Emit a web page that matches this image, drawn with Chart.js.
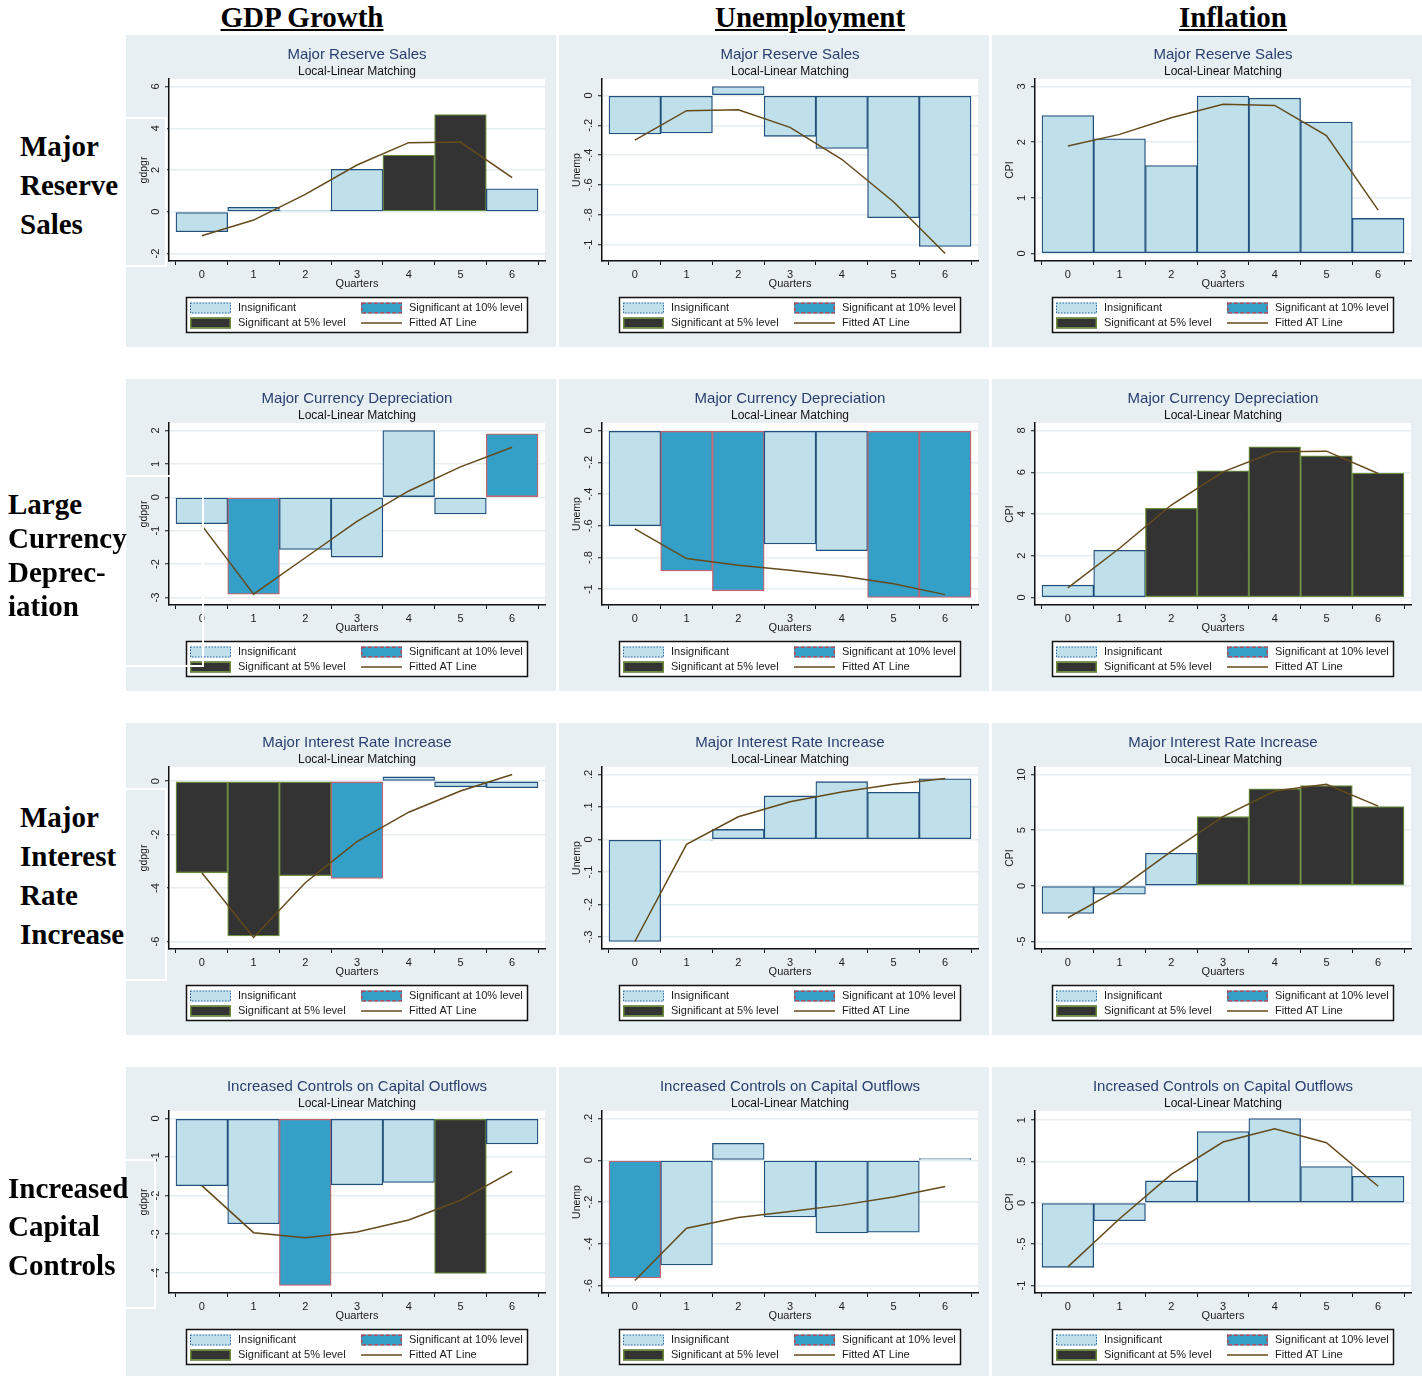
<!DOCTYPE html>
<html>
<head>
<meta charset="utf-8">
<title>Local-Linear Matching: effects of policy interventions</title>
<script src="https://cdn.jsdelivr.net/npm/chart.js@4.4.0/dist/chart.umd.min.js"></script>
<style>
  html, body { margin: 0; padding: 0; background: #ffffff; }
  body { width: 1422px; height: 1376px; overflow: hidden; position: relative;
         font-family: "Liberation Serif", "Times New Roman", serif; }
  .panel { position: absolute; width: 430px; height: 312px; background: #e8eff2; }
  .panel canvas { display: block; }
  .colhead { position: absolute; font-weight: bold; font-size: 29px; line-height: 29px;
             text-decoration: underline; white-space: nowrap; transform: translateX(-50%); color: #000; }
  .rowlab { position: absolute; font-weight: bold; font-size: 29px; line-height: 29px;
            white-space: nowrap; color: #000; }
  .frame { position: absolute; border: 2px solid #ffffff; pointer-events: none; z-index: 5; }
</style>
</head>
<body>
<script>
// ---------------------------------------------------------------
// Data
// ---------------------------------------------------------------
const quarters = [0, 1, 2, 3, 4, 5, 6];
const columnHeaders = ['GDP Growth', 'Unemployment', 'Inflation'];
const outcomeNames = ['gdpgr', 'Unemp', 'CPI'];
const interventions = [
  'Major Reserve Sales',
  'Major Currency Depreciation',
  'Major Interest Rate Increase',
  'Increased Controls on Capital Outflows'
];
const rowLabels = [
  ['Major', 'Reserve', 'Sales'],
  ['Large', 'Currency', 'Deprec-', 'iation'],
  ['Major', 'Interest', 'Rate', 'Increase'],
  ['Increased', 'Capital', 'Controls']
];
const subtitleText = 'Local-Linear Matching';
const xAxisTitle = 'Quarters';
const legendLabels = ['Insignificant', 'Significant at 10% level', 'Significant at 5% level', 'Fitted AT Line'];

// significance codes: 0 = insignificant, 1 = significant at 10%, 2 = significant at 5%

// Major reserve sales
const gdpReserveBars  = [-0.96, 0.21, 0.05, 2.03, 2.72, 4.66, 1.10];
const gdpReserveSig   = [0, 0, 0, 0, 2, 2, 0];
const gdpReserveFit   = [-1.15, -0.40, 0.83, 2.24, 3.31, 3.34, 1.63];
const gdpReserveTicks = [-2, 0, 2, 4, 6];

const unempReserveBars  = [-0.258, -0.252, 0.060, -0.274, -0.356, -0.820, -1.013];
const unempReserveSig   = [0, 0, 0, 0, 0, 0, 0];
const unempReserveFit   = [-0.300, -0.102, -0.096, -0.214, -0.428, -0.713, -1.060];
const unempReserveTicks = [-1, -0.8, -0.6, -0.4, -0.2, 0];

const cpiReserveBars  = [2.48, 2.06, 1.58, 2.83, 2.79, 2.36, 0.63];
const cpiReserveSig   = [0, 0, 0, 0, 0, 0, 0];
const cpiReserveFit   = [1.93, 2.14, 2.44, 2.68, 2.66, 2.12, 0.78];
const cpiReserveTicks = [0, 1, 2, 3];

// Major currency depreciation
const gdpCurrencyBars  = [-0.79, -2.90, -1.56, -1.79, 2.00, -0.50, 1.90];
const gdpCurrencySig   = [0, 1, 0, 0, 0, 0, 1];
const gdpCurrencyFit   = [-0.84, -2.90, -1.81, -0.72, 0.19, 0.91, 1.50];
const gdpCurrencyTicks = [-3, -2, -1, 0, 1, 2];

const unempCurrencyBars  = [-0.600, -0.885, -1.010, -0.715, -0.757, -1.052, -1.052];
const unempCurrencySig   = [0, 1, 1, 0, 0, 1, 1];
const unempCurrencyFit   = [-0.620, -0.807, -0.849, -0.881, -0.916, -0.966, -1.034];
const unempCurrencyTicks = [-1, -0.8, -0.6, -0.4, -0.2, 0];

const cpiCurrencyBars  = [0.59, 2.26, 4.27, 6.07, 7.22, 6.79, 5.96];
const cpiCurrencySig   = [0, 0, 2, 2, 2, 2, 2];
const cpiCurrencyFit   = [0.46, 2.36, 4.43, 6.02, 6.98, 7.01, 5.94];
const cpiCurrencyTicks = [0, 2, 4, 6, 8];

// Major interest rate increase
const gdpInterestBars  = [-3.43, -5.79, -3.54, -3.64, 0.16, -0.21, -0.24];
const gdpInterestSig   = [2, 2, 2, 1, 0, 0, 0];
const gdpInterestFit   = [-3.43, -5.85, -3.80, -2.26, -1.16, -0.37, 0.25];
const gdpInterestTicks = [-6, -4, -2, 0];

const unempInterestBars  = [-0.314, -0.002, 0.031, 0.134, 0.178, 0.145, 0.187];
const unempInterestSig   = [0, 0, 0, 0, 0, 0, 0];
const unempInterestFit   = [-0.314, -0.015, 0.070, 0.116, 0.146, 0.170, 0.188];
const unempInterestTicks = [-0.3, -0.2, -0.1, 0, 0.1, 0.2];

const cpiInterestBars  = [-2.48, -0.75, 2.93, 6.21, 8.72, 9.01, 7.13];
const cpiInterestSig   = [0, 0, 0, 2, 2, 2, 2];
const cpiInterestFit   = [-2.87, -0.27, 3.10, 6.21, 8.51, 9.13, 7.16];
const cpiInterestTicks = [-5, 0, 5, 10];

// Increased controls on capital outflows
const gdpControlsBars  = [-1.74, -2.73, -4.33, -1.72, -1.66, -4.02, -0.66];
const gdpControlsSig   = [0, 0, 1, 0, 0, 2, 0];
const gdpControlsFit   = [-1.74, -2.96, -3.09, -2.94, -2.63, -2.12, -1.37];
const gdpControlsTicks = [-4, -3, -2, -1, 0];

const unempControlsBars  = [-0.564, -0.502, 0.081, -0.272, -0.348, -0.345, 0.008];
const unempControlsSig   = [1, 0, 0, 0, 0, 0, 0];
const unempControlsFit   = [-0.576, -0.326, -0.274, -0.245, -0.215, -0.176, -0.126];
const unempControlsTicks = [-0.6, -0.4, -0.2, 0, 0.2];

const cpiControlsBars  = [-0.780, -0.217, 0.265, 0.863, 1.020, 0.438, 0.321];
const cpiControlsSig   = [0, 0, 0, 0, 0, 0, 0];
const cpiControlsFit   = [-0.775, -0.193, 0.345, 0.735, 0.896, 0.727, 0.200];
const cpiControlsTicks = [-1, -0.5, 0, 0.5, 1];

// ---------------------------------------------------------------
// Styling
// ---------------------------------------------------------------
const SANS = '"Liberation Sans", Arial, Helvetica, sans-serif';
const TITLE_COLOR = '#263f6e';
const TEXT_COLOR = '#1a1a1a';
const AXIS_COLOR = '#111111';
const GRID_COLOR = '#e6eef1';
const FIT_COLOR = '#654a1b';
const SIG_FILL = ['#bfe0ea', '#34a0c8', '#333333'];
const SIG_EDGE = ['#22507e', '#c0626f', '#6a8a3c'];

const colLeft = [126, 559, 992];
const rowTop = [35, 379, 723, 1067];

// one entry per panel, row by row
const panels = [
  { row: 0, col: 0, bars: gdpReserveBars,    sig: gdpReserveSig,    fit: gdpReserveFit,    ticks: gdpReserveTicks },
  { row: 0, col: 1, bars: unempReserveBars,  sig: unempReserveSig,  fit: unempReserveFit,  ticks: unempReserveTicks },
  { row: 0, col: 2, bars: cpiReserveBars,    sig: cpiReserveSig,    fit: cpiReserveFit,    ticks: cpiReserveTicks },
  { row: 1, col: 0, bars: gdpCurrencyBars,   sig: gdpCurrencySig,   fit: gdpCurrencyFit,   ticks: gdpCurrencyTicks },
  { row: 1, col: 1, bars: unempCurrencyBars, sig: unempCurrencySig, fit: unempCurrencyFit, ticks: unempCurrencyTicks },
  { row: 1, col: 2, bars: cpiCurrencyBars,   sig: cpiCurrencySig,   fit: cpiCurrencyFit,   ticks: cpiCurrencyTicks },
  { row: 2, col: 0, bars: gdpInterestBars,   sig: gdpInterestSig,   fit: gdpInterestFit,   ticks: gdpInterestTicks },
  { row: 2, col: 1, bars: unempInterestBars, sig: unempInterestSig, fit: unempInterestFit, ticks: unempInterestTicks },
  { row: 2, col: 2, bars: cpiInterestBars,   sig: cpiInterestSig,   fit: cpiInterestFit,   ticks: cpiInterestTicks },
  { row: 3, col: 0, bars: gdpControlsBars,   sig: gdpControlsSig,   fit: gdpControlsFit,   ticks: gdpControlsTicks },
  { row: 3, col: 1, bars: unempControlsBars, sig: unempControlsSig, fit: unempControlsFit, ticks: unempControlsTicks },
  { row: 3, col: 2, bars: cpiControlsBars,   sig: cpiControlsSig,   fit: cpiControlsFit,   ticks: cpiControlsTicks }
];

// Stata-style number labels: 0.2 -> ".2", -0.4 -> "-.4"
function stataNum(v) {
  const s = (Math.round(v * 1e6) / 1e6).toString();
  return s.replace(/^(-?)0\./, '$1.');
}

// ---------------------------------------------------------------
// Plugins
// ---------------------------------------------------------------
const plotBackground = {
  id: 'plotBackground',
  beforeDraw(chart) {
    const a = chart.chartArea, ctx = chart.ctx;
    ctx.save();
    ctx.fillStyle = '#ffffff';
    ctx.fillRect(a.left, a.top, a.right - a.left, a.bottom - a.top);
    ctx.restore();
  }
};

// vertical y tick labels, centred on each tick
const rotatedYTicks = {
  id: 'rotatedYTicks',
  afterDraw(chart) {
    const s = chart.scales.y, ctx = chart.ctx;
    ctx.save();
    ctx.font = '11px ' + SANS;
    ctx.fillStyle = TEXT_COLOR;
    ctx.textAlign = 'center';
    ctx.textBaseline = 'middle';
    s.ticks.forEach(t => {
      const y = s.getPixelForValue(t.value);
      ctx.save();
      ctx.translate(s.right - 13, y);
      ctx.rotate(-Math.PI / 2);
      ctx.fillText(stataNum(t.value), 0, 0);
      ctx.restore();
    });
    ctx.restore();
  }
};

// two-column boxed legend below the axis
const panelLegend = {
  id: 'panelLegend',
  afterDraw(chart) {
    const a = chart.chartArea, ctx = chart.ctx;
    const cx = (a.left + a.right) / 2;
    const left = Math.round(cx - 171), top = Math.round(a.bottom + 36);
    const w = 342, h = 36;
    ctx.save();
    ctx.fillStyle = '#ffffff';
    ctx.fillRect(left, top, w, h);
    ctx.strokeStyle = '#111111';
    ctx.lineWidth = 1.5;
    ctx.strokeRect(left + 0.5, top + 0.5, w - 1, h - 1);

    const rowsY = [top + 11, top + 26];
    const swatchX = [left + 4, left + 175];
    const textX = [left + 52, left + 223];
    const sw = 41, sh = 11;

    // insignificant: dotted outline
    ctx.fillStyle = SIG_FILL[0];
    ctx.fillRect(swatchX[0], rowsY[0] - sh / 2, sw, sh);
    ctx.setLineDash([1.5, 1.5]);
    ctx.strokeStyle = '#2a62a0';
    ctx.lineWidth = 1;
    ctx.strokeRect(swatchX[0] + 0.5, rowsY[0] - sh / 2 + 0.5, sw - 1, sh - 1);

    // significant at 10%: dashed outline
    ctx.fillStyle = SIG_FILL[1];
    ctx.fillRect(swatchX[1], rowsY[0] - sh / 2, sw, sh);
    ctx.setLineDash([4, 2]);
    ctx.strokeStyle = '#b24a5c';
    ctx.lineWidth = 1.5;
    ctx.strokeRect(swatchX[1] + 0.75, rowsY[0] - sh / 2 + 0.75, sw - 1.5, sh - 1.5);
    ctx.setLineDash([]);

    // significant at 5%
    ctx.fillStyle = SIG_FILL[2];
    ctx.fillRect(swatchX[0], rowsY[1] - sh / 2, sw, sh);
    ctx.strokeStyle = SIG_EDGE[2];
    ctx.lineWidth = 1.5;
    ctx.strokeRect(swatchX[0] + 0.75, rowsY[1] - sh / 2 + 0.75, sw - 1.5, sh - 1.5);

    // fitted line
    ctx.strokeStyle = FIT_COLOR;
    ctx.lineWidth = 1.5;
    ctx.beginPath();
    ctx.moveTo(swatchX[1], rowsY[1]);
    ctx.lineTo(swatchX[1] + sw, rowsY[1]);
    ctx.stroke();

    ctx.fillStyle = TEXT_COLOR;
    ctx.font = '11px ' + SANS;
    ctx.textAlign = 'left';
    ctx.textBaseline = 'middle';
    ctx.fillText(legendLabels[0], textX[0], rowsY[0]);
    ctx.fillText(legendLabels[1], textX[1], rowsY[0]);
    ctx.fillText(legendLabels[2], textX[0], rowsY[1]);
    ctx.fillText(legendLabels[3], textX[1], rowsY[1]);
    ctx.restore();
  }
};

// ---------------------------------------------------------------
// Panels
// ---------------------------------------------------------------
function buildPanel(p) {
  const wrap = document.createElement('div');
  wrap.className = 'panel';
  wrap.style.left = colLeft[p.col] + 'px';
  wrap.style.top = rowTop[p.row] + 'px';
  const canvas = document.createElement('canvas');
  canvas.width = 430;
  canvas.height = 312;
  wrap.appendChild(canvas);
  document.body.appendChild(wrap);

  const lo = Math.min(0, ...p.ticks, ...p.bars, ...p.fit);
  const hi = Math.max(0, ...p.ticks, ...p.bars, ...p.fit);
  const pad = (hi - lo) * 0.045;

  new Chart(canvas, {
    type: 'bar',
    data: {
      datasets: [
        {
          type: 'line',
          label: legendLabels[3],
          data: quarters.map((q, i) => ({ x: q, y: p.fit[i] })),
          borderColor: FIT_COLOR,
          borderWidth: 1.5,
          pointRadius: 0,
          tension: 0,
          order: 0
        },
        {
          type: 'bar',
          label: 'Effect',
          data: quarters.map((q, i) => ({ x: q, y: p.bars[i] })),
          backgroundColor: p.sig.map(s => SIG_FILL[s]),
          borderColor: p.sig.map(s => SIG_EDGE[s]),
          borderWidth: 1.3,
          borderSkipped: false,
          barPercentage: 1,
          categoryPercentage: 1,
          order: 1
        }
      ]
    },
    options: {
      responsive: false,
      animation: false,
      devicePixelRatio: 1,
      events: [],
      layout: { padding: { left: 0, top: 0, right: 11, bottom: 0 } },
      plugins: {
        legend: { display: false },
        tooltip: { enabled: false },
        title: {
          display: true,
          text: interventions[p.row],
          fullSize: false,
          color: TITLE_COLOR,
          font: { family: SANS, size: 15, weight: 'normal', lineHeight: 1.2 },
          padding: { top: 11, bottom: 0 }
        },
        subtitle: {
          display: true,
          text: subtitleText,
          fullSize: false,
          color: '#111111',
          font: { family: SANS, size: 12, weight: 'normal', lineHeight: 1.2 },
          padding: { top: 0.4, bottom: 0.2 }
        }
      },
      scales: {
        x: {
          type: 'linear',
          min: -0.635,
          max: 6.635,
          offset: false,
          afterBuildTicks: s => { s.ticks = quarters.map(v => ({ value: v })); },
          afterFit: s => { s.height = 86; },
          grid: { drawOnChartArea: false, drawTicks: true, tickLength: 4, tickColor: AXIS_COLOR, tickWidth: 1 },
          border: { display: true, color: AXIS_COLOR, width: 1.5 },
          ticks: {
            font: { family: SANS, size: 11 },
            color: TEXT_COLOR,
            padding: 3,
            maxRotation: 0,
            autoSkip: false,
            callback: v => String(v)
          },
          title: {
            display: true,
            text: xAxisTitle,
            color: TEXT_COLOR,
            font: { family: SANS, size: 11, lineHeight: 1.2 },
            padding: { top: 0, bottom: 56 }
          }
        },
        y: {
          type: 'linear',
          min: lo - pad,
          max: hi + pad,
          afterBuildTicks: s => { s.ticks = p.ticks.map(v => ({ value: v })); },
          afterFit: s => { s.width = 43; },
          grid: { color: GRID_COLOR, lineWidth: 1.5, drawTicks: true, tickLength: 4, tickColor: AXIS_COLOR, tickWidth: 1 },
          border: { display: true, color: AXIS_COLOR, width: 1.5 },
          ticks: { display: false },
          title: {
            display: true,
            text: outcomeNames[p.col],
            color: TEXT_COLOR,
            font: { family: SANS, size: 10.5, lineHeight: 1.2 },
            padding: { top: 11.7, bottom: 0 }
          }
        }
      }
    },
    plugins: [plotBackground, rotatedYTicks, panelLegend]
  });
}

panels.forEach(buildPanel);

// ---------------------------------------------------------------
// Column headers and row labels
// ---------------------------------------------------------------
const headerCenters = [302, 810, 1233];
columnHeaders.forEach((txt, i) => {
  const d = document.createElement('div');
  d.className = 'colhead';
  d.textContent = txt;
  d.style.left = headerCenters[i] + 'px';
  d.style.top = (27 - 24.3) + 'px';
  document.body.appendChild(d);
});

const rowLabelLeft = [20, 8, 20, 8];
const rowLabelBaseline = [156, 514, 827, 1198];
const rowLabelStep = [39, 34, 39, 38.5];
rowLabels.forEach((lines, r) => {
  lines.forEach((txt, k) => {
    const d = document.createElement('div');
    d.className = 'rowlab';
    d.textContent = txt;
    d.style.left = rowLabelLeft[r] + 'px';
    d.style.top = (rowLabelBaseline[r] + k * rowLabelStep[r] - 24.3) + 'px';
    document.body.appendChild(d);
  });
});

// white text-box outlines around the row labels
[[118, 166, 266], [476, 203, 666], [789, 166, 980], [1160, 155, 1308]].forEach(([t, r, b]) => {
  const f = document.createElement('div');
  f.className = 'frame';
  f.style.left = '-10px';
  f.style.top = (t - 1) + 'px';
  f.style.width = (r + 10 - 3) + 'px';
  f.style.height = (b - t - 2) + 'px';
  document.body.appendChild(f);
});
</script>
</body>
</html>
